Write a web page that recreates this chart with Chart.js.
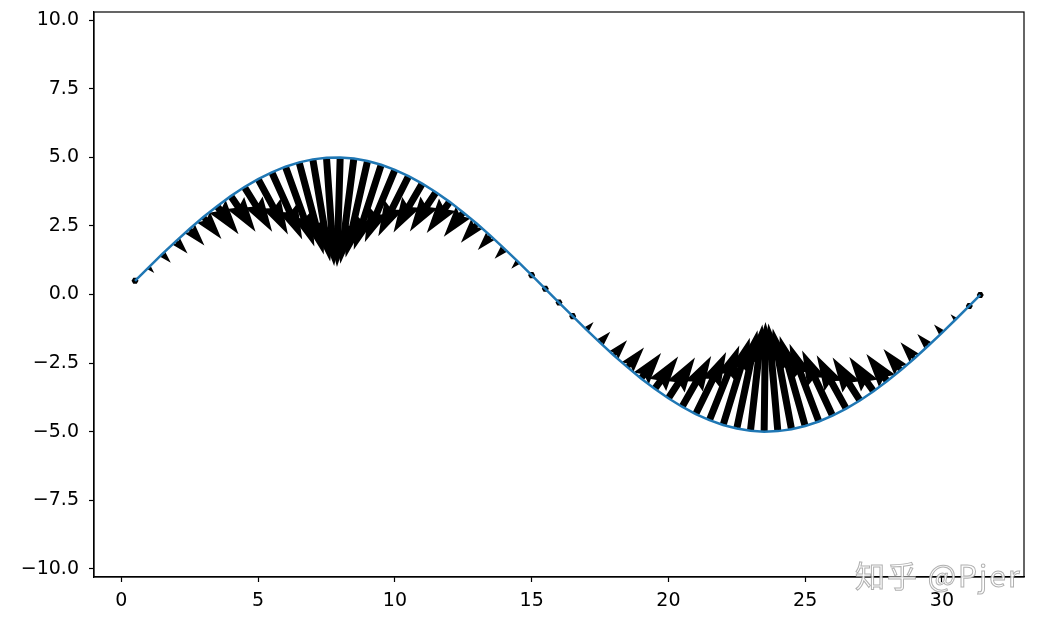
<!DOCTYPE html>
<html>
<head>
<meta charset="utf-8">
<script src="https://cdn.jsdelivr.net/npm/chart.js@4.4.0/dist/chart.umd.min.js"></script>
<style>
    body { margin:0; background:#fff; }
    canvas { display:block; }
</style>
</head>
<body>
<canvas id="chartQuiver" width="1041" height="623"></canvas>
<script>
// curve points (also arrow tails)
const xValues = [0.5,1,1.5,2,2.5,3,3.5,4,4.5,5,5.5,6,6.5,7,7.5,8,8.5,9,9.5,10,10.5,11,11.5,12,12.5,13,13.5,14,14.5,15,15.5,16,16.5,17,17.5,18,18.5,19,19.5,20,20.5,21,21.5,22,22.5,23,23.5,24,24.5,25,25.5,26,26.5,27,27.5,28,28.5,29,29.5,30,30.5,31,31.4];
const yValues = [0.499,0.993,1.478,1.947,2.397,2.823,3.221,3.587,3.917,4.207,4.456,4.660,4.818,4.927,4.987,4.998,4.958,4.869,4.731,4.546,4.316,4.042,3.729,3.377,2.992,2.577,2.137,1.675,1.196,0.706,0.208,-0.292,-0.789,-1.278,-1.754,-2.213,-2.649,-3.059,-3.439,-3.784,-4.091,-4.358,-4.581,-4.758,-4.888,-4.968,-5.000,-4.981,-4.913,-4.795,-4.629,-4.418,-4.162,-3.864,-3.528,-3.157,-2.754,-2.323,-1.870,-1.397,-0.911,-0.416,-0.016];
// arrow vectors (data units)
const arrowU = [0.100,0.203,0.309,0.420,0.537,0.660,0.785,0.906,1.013,1.090,1.112,1.056,0.898,0.633,0.279,-0.117,-0.494,-0.800,-1.003,-1.100,-1.107,-1.050,-0.953,-0.836,-0.712,-0.588,-0.468,-0.354,-0.246,-0.143,-0.042,0.059,0.160,0.264,0.373,0.488,0.608,0.733,0.857,0.971,1.063,1.111,1.091,0.977,0.756,0.435,0.050,-0.343,-0.685,-0.932,-1.072,-1.113,-1.080,-0.997,-0.886,-0.764,-0.639,-0.517,-0.401,-0.291,-0.185,-0.083,-0.003];
const arrowV = [-0.101,-0.207,-0.323,-0.456,-0.612,-0.799,-1.026,-1.301,-1.630,-2.017,-2.452,-2.913,-3.357,-3.723,-3.950,-3.992,-3.838,-3.522,-3.103,-2.643,-2.193,-1.784,-1.431,-1.134,-0.888,-0.686,-0.518,-0.376,-0.254,-0.144,-0.042,0.059,0.162,0.273,0.398,0.544,0.717,0.926,1.180,1.486,1.849,2.266,2.721,3.178,3.585,3.877,3.998,3.924,3.670,3.285,2.835,2.376,1.948,1.571,1.250,0.984,0.765,0.584,0.432,0.303,0.188,0.084,0.003];
const xTicks = [0,5,10,15,20,25,30];
const yTicks = [-10,-7.5,-5,-2.5,0,2.5,5,7.5,10];
const watermark = '知乎 @Pjer';

const FONT = 'DejaVu Sans';
const SHAFT = 7; // arrow shaft width, px

// quiver arrows, drawn under the line like matplotlib
const quiverPlugin = {
    id: 'quiver',
    beforeDatasetsDraw(chart) {
        const { ctx, chartArea: a, scales: { x, y } } = chart;
        ctx.save();
        ctx.beginPath(); ctx.rect(a.left, a.top, a.width, a.height); ctx.clip();
        ctx.fillStyle = '#000';
        xValues.forEach((xv, i) => {
            const px = x.getPixelForValue(xv), py = y.getPixelForValue(yValues[i]);
            const tx = x.getPixelForValue(xv + arrowU[i]), ty = y.getPixelForValue(yValues[i] + arrowV[i]);
            const dx = tx - px, dy = ty - py;
            const len = Math.hypot(dx, dy);
            const L = len / SHAFT;
            ctx.beginPath();
            if (L < 1) {
                // too short: hexagon dot
                for (let k = 0; k < 6; k++) {
                    const th = k * Math.PI / 3;
                    ctx.lineTo(px + Math.cos(th) * SHAFT * 0.5, py + Math.sin(th) * SHAFT * 0.5);
                }
            } else {
                const ux = dx / len, uy = dy / len, nx = -uy, ny = ux;
                let pts;
                if (L < 5) {
                    const s = L / 5;
                    pts = [[0, 0.5*s], [0.5*s, 0.5*s], [0, 1.5*s], [5*s, 0], [0, -1.5*s], [0.5*s, -0.5*s], [0, -0.5*s]];
                } else {
                    pts = [[0, 0.5], [L-4.5, 0.5], [L-5, 1.5], [L, 0], [L-5, -1.5], [L-4.5, -0.5], [0, -0.5]];
                }
                pts.forEach(([a1, b1]) => ctx.lineTo(px + (ux*a1 + nx*b1) * SHAFT, py + (uy*a1 + ny*b1) * SHAFT));
            }
            ctx.closePath();
            ctx.fill();
        });
        ctx.restore();
    },
    afterDraw(chart) {
        const { ctx, chartArea: a } = chart;
        ctx.save();
        // axes frame
        ctx.strokeStyle = '#000'; ctx.lineWidth = 1.2;
        ctx.strokeRect(a.left, a.top, a.width, a.height);
        // watermark
        ctx.font = '30px "Noto Sans CJK SC"';
        ctx.textBaseline = 'alphabetic';
        ctx.lineWidth = 1;
        ctx.strokeStyle = 'rgba(150,150,150,0.75)';
        ctx.fillStyle = 'rgba(255,255,255,0.9)';
        if ('letterSpacing' in ctx) ctx.letterSpacing = '2px';
        ctx.fillText(watermark, 855, 587);
        ctx.strokeText(watermark, 855, 587);
        ctx.restore();
    }
};

const fmt = v => (v < 0 ? '\u2212' : '') + Math.abs(v).toFixed(1);

new Chart(document.getElementById('chartQuiver').getContext('2d'), {
    type: 'scatter',
    data: {
        datasets: [{
            data: xValues.map((v, i) => ({ x: v, y: yValues[i] })),
            showLine: true, borderColor: '#1f77b4', borderWidth: 2.5,
            pointRadius: 0, tension: 0
        }]
    },
    options: {
        responsive: false, animation: false, devicePixelRatio: 1,
        layout: { padding: { top: 12, right: 17, left: 0, bottom: 0 } },
        plugins: { legend: { display: false }, tooltip: { enabled: false } },
        scales: {
            x: {
                type: 'linear', min: -1, max: 33,
                afterBuildTicks: s => { s.ticks = xTicks.map(v => ({ value: v })); },
                afterFit: s => { s.height = 46; s.paddingLeft = 0; s.paddingRight = 0; },
                ticks: { color: '#000', padding: 8, font: { family: FONT, size: 19 }, maxRotation: 0, callback: v => String(v) },
                grid: { drawOnChartArea: false, drawTicks: true, tickLength: 5, tickColor: '#000', tickWidth: 1.2 },
                border: { display: true, color: '#000', width: 1.2 }
            },
            y: {
                type: 'linear', min: -10.3, max: 10.3,
                afterBuildTicks: s => { s.ticks = yTicks.map(v => ({ value: v })); },
                afterFit: s => { s.width = 94; s.paddingTop = 0; s.paddingBottom = 0; },
                ticks: { color: '#000', padding: 10, font: { family: FONT, size: 19 }, callback: v => fmt(v) },
                grid: { drawOnChartArea: false, drawTicks: true, tickLength: 5, tickColor: '#000', tickWidth: 1.2 },
                border: { display: true, color: '#000', width: 1.2 }
            }
        }
    },
    plugins: [quiverPlugin]
});
</script>
</body>
</html>
